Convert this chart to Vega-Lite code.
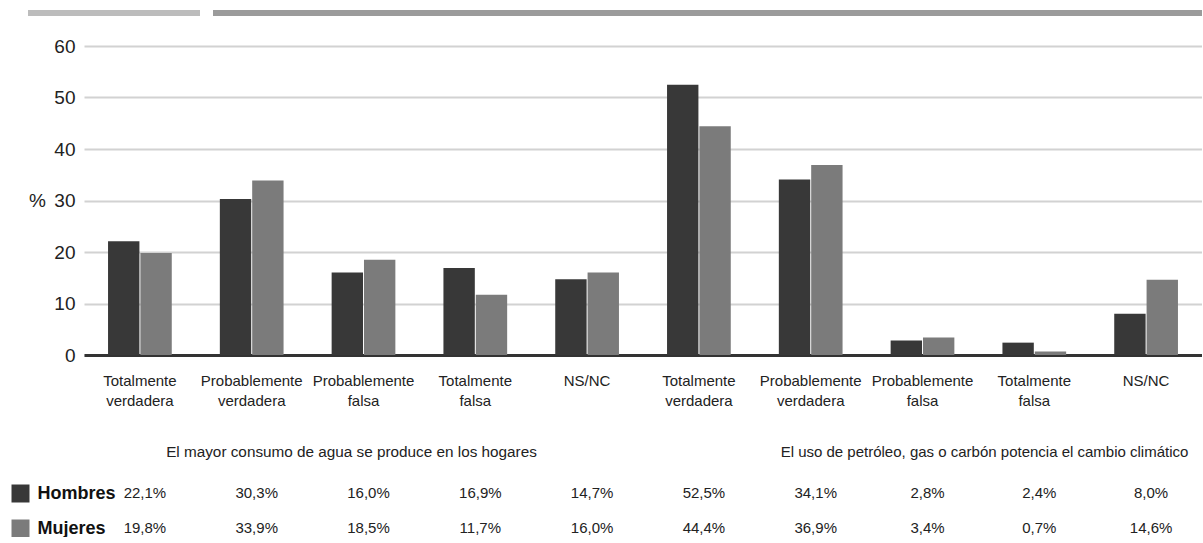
{
  "$schema": "https://vega.github.io/schema/vega-lite/v6.json",
  "background": "white",
  "padding": {"left": 2, "top": 10, "right": 0, "bottom": 0},
  "datasets": {
    "pct": [
      {"cat": "A1|Totalmente|verdadera", "sexo": "Hombres", "pct": 22.1},
      {"cat": "A1|Totalmente|verdadera", "sexo": "Mujeres", "pct": 19.8},
      {"cat": "A2|Probablemente|verdadera", "sexo": "Hombres", "pct": 30.3},
      {"cat": "A2|Probablemente|verdadera", "sexo": "Mujeres", "pct": 33.9},
      {"cat": "A3|Probablemente|falsa", "sexo": "Hombres", "pct": 16.0},
      {"cat": "A3|Probablemente|falsa", "sexo": "Mujeres", "pct": 18.5},
      {"cat": "A4|Totalmente|falsa", "sexo": "Hombres", "pct": 16.9},
      {"cat": "A4|Totalmente|falsa", "sexo": "Mujeres", "pct": 11.7},
      {"cat": "A5|NS/NC", "sexo": "Hombres", "pct": 14.7},
      {"cat": "A5|NS/NC", "sexo": "Mujeres", "pct": 16.0},
      {"cat": "B1|Totalmente|verdadera", "sexo": "Hombres", "pct": 52.5},
      {"cat": "B1|Totalmente|verdadera", "sexo": "Mujeres", "pct": 44.4},
      {"cat": "B2|Probablemente|verdadera", "sexo": "Hombres", "pct": 34.1},
      {"cat": "B2|Probablemente|verdadera", "sexo": "Mujeres", "pct": 36.9},
      {"cat": "B3|Probablemente|falsa", "sexo": "Hombres", "pct": 2.8},
      {"cat": "B3|Probablemente|falsa", "sexo": "Mujeres", "pct": 3.4},
      {"cat": "B4|Totalmente|falsa", "sexo": "Hombres", "pct": 2.4},
      {"cat": "B4|Totalmente|falsa", "sexo": "Mujeres", "pct": 0.7},
      {"cat": "B5|NS/NC", "sexo": "Hombres", "pct": 8.0},
      {"cat": "B5|NS/NC", "sexo": "Mujeres", "pct": 14.6}
    ],
    "grupos": [
      {"grupo": "A", "cat": "A3|Probablemente|falsa", "texto": "El mayor consumo de agua se produce en los hogares"},
      {"grupo": "B", "cat": "B3|Probablemente|falsa", "texto": "El uso de petróleo, gas o carbón potencia el cambio climático"}
    ]
  },
  "config": {
    "font": "Liberation Sans",
    "view": {"stroke": null},
    "axis": {"labelFont": "Liberation Sans", "titleFont": "Liberation Sans"},
    "text": {"font": "Liberation Sans"}
  },
  "spacing": 21,
  "vconcat": [
    {
      "spacing": 13,
      "hconcat": [
        {
          "width": 116, "height": 6,
          "data": {"values": [{}]},
          "mark": {"type": "point", "opacity": 0},
          "encoding": {
            "y": {
              "datum": 0.5, "type": "quantitative",
              "scale": {"domain": [0, 1]},
              "axis": {
                "values": [0.5], "labels": false, "domain": false, "grid": false, "title": null,
                "translate": 0,
                "ticks": true, "tickSize": 56, "tickWidth": 6, "tickCap": "butt", "tickColor": "#bcbcbc"
              }
            }
          },
          "view": {"fill": "#bcbcbc", "stroke": null}
        },
        {
          "width": 989, "height": 6,
          "data": {"values": [{}]},
          "mark": {"type": "point", "opacity": 0},
          "encoding": {},
          "view": {"fill": "#9b9b9b", "stroke": null}
        }
      ]
    },
    {
      "bounds": "flush",
      "spacing": 87,
      "vconcat": [
        {
          "width": 1118,
          "height": 309,
          "data": {"name": "pct"},
          "mark": {"type": "bar"},
          "encoding": {
            "x": {
              "field": "cat", "type": "nominal",
              "scale": {"paddingInner": 0.43, "paddingOuter": 0.215},
              "axis": {
                "title": null,
                "labelExpr": "slice(split(datum.value, '|'), 1)",
                "labelFontSize": 15, "labelLineHeight": 20, "labelPadding": 18,
                "labelColor": "#222222", "labelAngle": 0, "labelOverlap": false, "labelLimit": 0,
                "ticks": false, "domainColor": "#333333", "domainWidth": 3
              }
            },
            "xOffset": {"field": "sexo", "type": "nominal", "scale": {"paddingInner": 0.03}},
            "y": {
              "field": "pct", "type": "quantitative",
              "scale": {"domain": [0, 60]},
              "axis": {
                "values": [0, 10, 20, 30, 40, 50, 60],
                "grid": true, "gridColor": "#d2d2d2", "gridWidth": 2,
                "domain": false, "ticks": false,
                "labelFontSize": 19, "labelPadding": 9, "labelColor": "#222222",
                "title": "%", "titleAngle": 0, "titleX": -47, "titleY": 154.5,
                "titleAlign": "center", "titleBaseline": "middle",
                "titleFontSize": 19, "titleFontWeight": "normal", "titleColor": "#222222"
              }
            },
            "color": {
              "field": "sexo", "type": "nominal",
              "scale": {"domain": ["Hombres", "Mujeres"], "range": ["#383838", "#7b7b7b"]},
              "legend": null
            }
          }
        },
        {
          "bounds": "flush",
          "spacing": 31,
          "vconcat": [
            {
              "width": 1118,
              "height": 20,
              "data": {"name": "grupos"},
              "layer": [
                {
                  "transform": [{"filter": "datum.grupo == 'A'"}],
                  "mark": {"type": "text", "fontSize": 15.3, "color": "#222222", "dx": -12}
                },
                {
                  "transform": [{"filter": "datum.grupo == 'B'"}],
                  "mark": {"type": "text", "fontSize": 15, "color": "#222222", "dx": 62}
                }
              ],
              "encoding": {
                "x": {
                  "field": "cat", "type": "nominal",
                  "scale": {
                    "domain": ["A1|Totalmente|verdadera", "A2|Probablemente|verdadera", "A3|Probablemente|falsa", "A4|Totalmente|falsa", "A5|NS/NC", "B1|Totalmente|verdadera", "B2|Probablemente|verdadera", "B3|Probablemente|falsa", "B4|Totalmente|falsa", "B5|NS/NC"],
                    "paddingInner": 0.43, "paddingOuter": 0.215
                  },
                  "axis": null
                },
                "text": {"field": "texto"}
              }
            },
            {
              "width": 1118,
              "height": 35,
              "data": {"name": "pct"},
              "transform": [{"calculate": "replace(format(datum.pct, '.1f'), '.', ',') + '%'", "as": "etiqueta"}],
              "mark": {"type": "text", "fontSize": 15, "color": "#222222", "dx": 5},
              "encoding": {
                "x": {
                  "field": "cat", "type": "nominal",
                  "scale": {"paddingInner": 0.43, "paddingOuter": 0.215},
                  "axis": null
                },
                "y": {
                  "field": "sexo", "type": "nominal",
                  "scale": {"type": "point", "padding": 0, "domain": ["Hombres", "Mujeres"]},
                  "axis": {
                    "orient": "left", "offset": 55, "title": null, "domain": false, "grid": false,
                    "ticks": true, "tickSize": 18, "tickWidth": 18, "tickCap": "butt",
                    "tickColor": {"expr": "datum.value == 'Hombres' ? '#383838' : '#7b7b7b'"},
                    "labelAlign": "left", "labelPadding": -26, "labelBaseline": "middle",
                    "labelFontSize": 18, "labelFontWeight": "bold", "labelColor": "#111111",
                    "labelOverlap": false, "labelBound": false, "labelFlush": false
                  }
                },
                "text": {"field": "etiqueta"}
              }
            }
          ]
        }
      ]
    }
  ]
}
